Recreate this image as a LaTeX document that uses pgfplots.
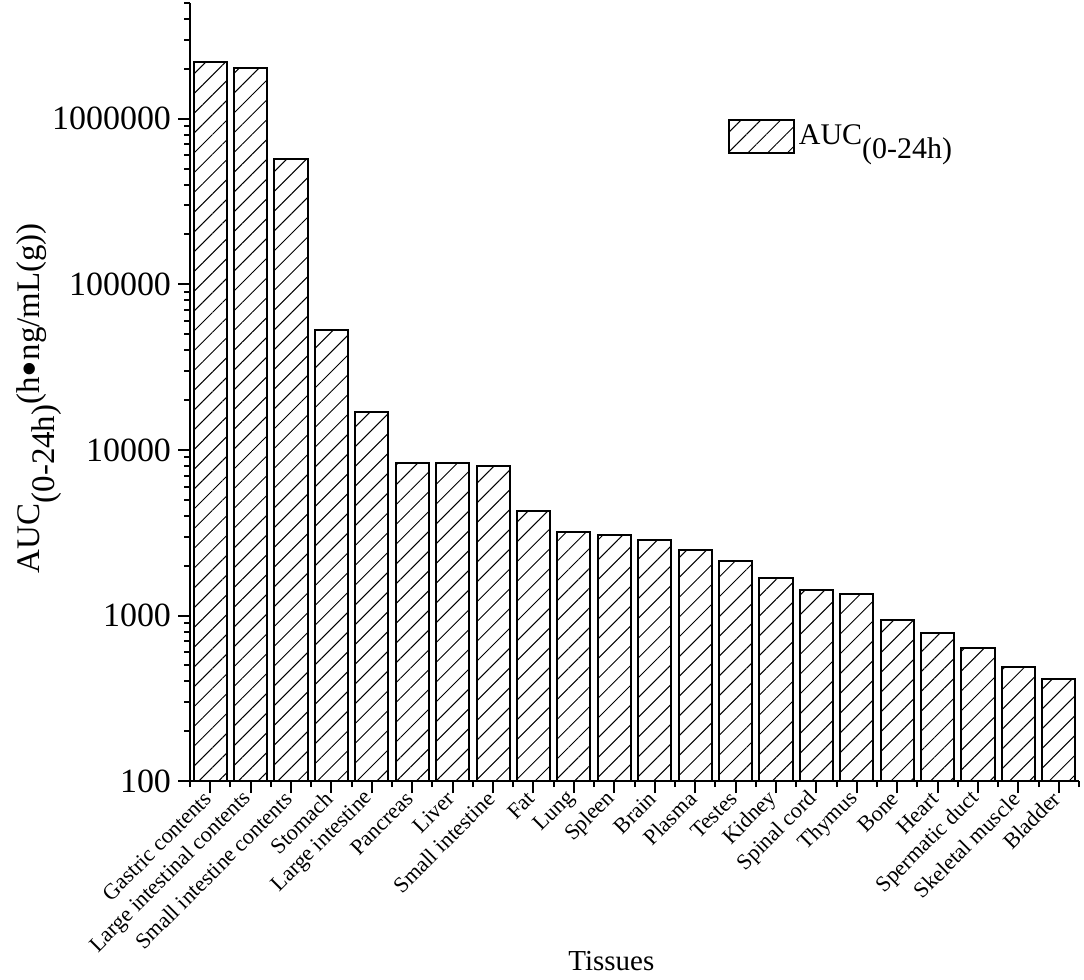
\documentclass[border=0pt]{standalone}
\usepackage{fontspec}
\setmainfont{Liberation Serif}
\usepackage{pgfplots}
\usepackage{pgfplotstable}
\pgfplotsset{compat=1.18}
\usetikzlibrary{patterns.meta}
\pgfplotstableread{
x val
0 2200000
1 2030000
2 574000
3 52800
4 16900
5 8350
6 8350
7 8000
8 4290
9 3210
10 3080
11 2870
12 2500
13 2145
14 1693
15 1434
16 1357
17 933
18 779
19 633
20 486
21 411
}\datatable
\newcommand{\bigbullet}{\raisebox{-0.18em}{\scalebox{1.45}{•}}}
\begin{document}
\begin{tikzpicture}
\begin{axis}[
  scale only axis, width=445pt, height=389.5pt,
  ymode=log, ymin=100, ymax=5000000,
  xmin=-0.5, xmax=21.5,
  axis lines*=left,
  axis line style={line width=1pt},
  every tick/.style={line width=1pt, black},
  tick align=outside,
  major tick length=6pt, minor tick length=3pt,
  xtick={0,1,2,3,4,5,6,7,8,9,10,11,12,13,14,15,16,17,18,19,20,21},
  minor xtick={-0.5,0.5,1.5,2.5,3.5,4.5,5.5,6.5,7.5,8.5,9.5,10.5,11.5,12.5,13.5,14.5,15.5,16.5,17.5,18.5,19.5,20.5,21.5},
  xticklabels={Gastric contents,Large intestinal contents,Small intestine contents,Stomach,Large intestine,Pancreas,Liver,Small intestine,Fat,Lung,Spleen,Brain,Plasma,Testes,Kidney,Spinal cord,Thymus,Bone,Heart,Spermatic duct,Skeletal muscle,Bladder},
  xticklabel style={rotate=45, anchor=east, font=\fontsize{11.1}{13}\selectfont, inner sep=1.5pt},
  ytick={100,1000,10000,100000,1000000},
  yticklabels={100,1000,10000,100000,1000000},
  minor ytick={200,300,400,500,600,700,800,900,2000,3000,4000,5000,6000,7000,8000,9000,20000,30000,40000,50000,60000,70000,80000,90000,200000,300000,400000,500000,600000,700000,800000,900000,2000000,3000000,4000000,5000000},
  yticklabel style={font=\fontsize{17}{19}\selectfont},
  /pgf/number format/assume math mode=true,
  ylabel={AUC\raisebox{-0.45em}{(0-24h)}(h\bigbullet ng/mL(g))},
  ylabel style={font=\fontsize{16.5}{19}\selectfont, yshift=-11.5pt, xshift=-3pt},
  xlabel={Tissues},
  xlabel style={font=\fontsize{14.5}{17}\selectfont, at={(axis description cs:0.474,0)}, anchor=base, yshift=-95pt},
  legend style={draw=none, fill=none, at={(0.6047,0.8285)}, anchor=west, font=\fontsize{15}{18}\selectfont, inner sep=0pt, cells={anchor=west}},
]
\addplot[ybar, bar width=0.82, draw=black, line width=1pt,
  pattern={Lines[angle=45,distance=7pt,line width=0.5pt]},
  legend image code/.code={\draw[draw=black, line width=1pt, pattern={Lines[angle=45,distance=7pt,line width=0.5pt]}] (0pt,-8.25pt) rectangle (32.5pt,8.25pt);}
] table[x=x,y=val]{\datatable};
\addlegendentry{AUC\raisebox{-0.45em}{(0-24h)}}
\end{axis}
\path ([xshift=-5pt]current bounding box.west);
\path ([xshift=2pt]current bounding box.east);
\path ([yshift=1pt]current bounding box.north);
\path ([yshift=-1pt]current bounding box.south);
\end{tikzpicture}
\end{document}
